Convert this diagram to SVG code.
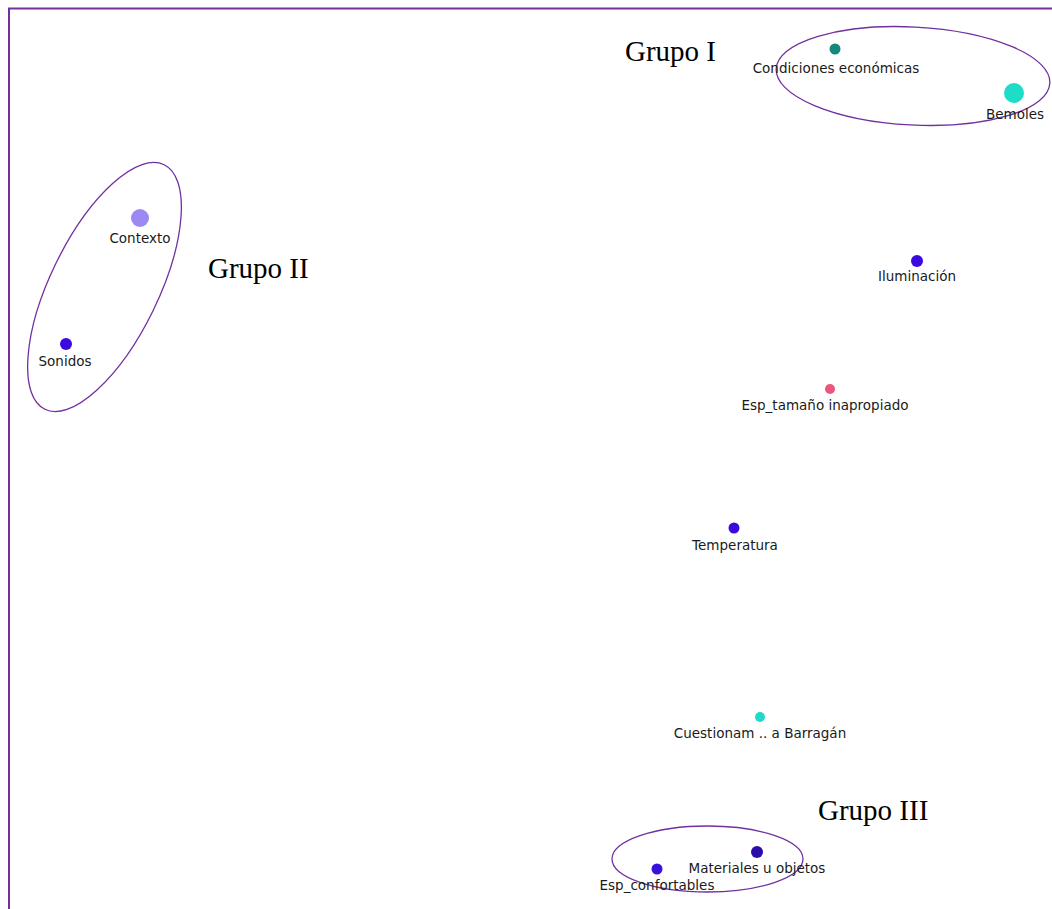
<svg xmlns="http://www.w3.org/2000/svg" width="1052" height="909" viewBox="0 0 1052 909">
<style>
.lbl{font-family:"DejaVu Sans","Verdana",sans-serif;font-size:13.5px;fill:#1a1a1a;text-anchor:middle}
.grp{font-family:"Liberation Serif","Times New Roman",serif;font-size:29px;fill:#000}
.ring{fill:none;stroke:#7030A0;stroke-width:1.3}
.frame{stroke:#7030A0;stroke-width:2;fill:none}
</style>
<rect width="1052" height="909" fill="#fff"/>
<path class="frame" d="M9,909 V8.5 H1052"/>
<g id="groups">
<ellipse class="ring" cx="913" cy="76" rx="137" ry="49" transform="rotate(3 913 76)"/>
<ellipse class="ring" cx="104.5" cy="287" rx="136" ry="54" transform="rotate(-64 104.5 287)"/>
<ellipse class="ring" cx="707.5" cy="859" rx="95.5" ry="33"/>
<text class="grp" x="625" y="61">Grupo I</text>
<text class="grp" x="208" y="278">Grupo II</text>
<text class="grp" x="818" y="820">Grupo III</text>
</g>
<g id="n-condiciones"><circle cx="835" cy="49" r="5.5" fill="#14887C"/><text class="lbl" x="836" y="73">Condiciones económicas</text></g>
<g id="n-bemoles"><circle cx="1014" cy="93" r="10" fill="#1DDDC9"/><text class="lbl" x="1015" y="119">Bemoles</text></g>
<g id="n-contexto"><circle cx="140" cy="218" r="9" fill="#9C89F4"/><text class="lbl" x="140" y="243">Contexto</text></g>
<g id="n-sonidos"><circle cx="66" cy="344" r="6" fill="#3A0ADF"/><text class="lbl" x="65" y="366">Sonidos</text></g>
<g id="n-iluminacion"><circle cx="917" cy="261" r="6" fill="#3A0ADF"/><text class="lbl" x="917" y="281">Iluminación</text></g>
<g id="n-esptam"><circle cx="830" cy="389" r="5" fill="#E9577C"/><text class="lbl" x="825" y="410">Esp_tamaño inapropiado</text></g>
<g id="n-temperatura"><circle cx="734" cy="528" r="5.5" fill="#3A0ADF"/><text class="lbl" x="735" y="550">Temperatura</text></g>
<g id="n-cuestionam"><circle cx="760" cy="717" r="5" fill="#22D8C8"/><text class="lbl" x="760" y="738">Cuestionam .. a Barragán</text></g>
<g id="n-materiales"><circle cx="757" cy="852" r="6" fill="#2C0CA8"/><text class="lbl" x="757" y="873">Materiales u objetos</text></g>
<g id="n-espconf"><circle cx="657" cy="869" r="5.5" fill="#3A10DC"/><text class="lbl" x="657" y="890">Esp_confortables</text></g>
<g id="connectors"></g>
</svg>
